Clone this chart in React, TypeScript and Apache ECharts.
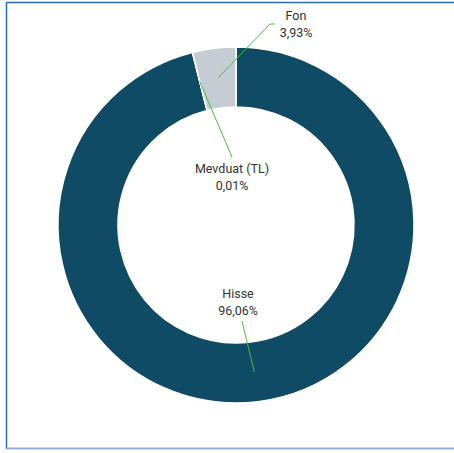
import React, { useEffect, useRef } from "react";
import * as echarts from "echarts";

const categories = ["Hisse", "Mevduat (TL)", "Fon"];
const values = [96.06, 0.01, 3.93];
const colors = ["#0f4b65", "#6f8fa3", "#c5ccd3"];

// layout (positions of manually placed labels and leader-line ends)
const CX = 236;
const CY = 225;
const R_IN = 118;
const R_OUT = 178;
const labelPos: number[][] = [
  [238, 302],
  [232, 177],
  [296, 24],
];
const lineEnds: number[][][] = [
  [[242, 321]],
  [[232, 157]],
  [
    [270, 24],
    [275, 24],
  ],
];

const fmt = (v: number) => v.toFixed(2).replace(".", ",") + "%";

export default function App() {
  const ref = useRef<HTMLDivElement>(null);
  useEffect(() => {
    if (!ref.current) return;
    const chart = echarts.init(ref.current, null, { renderer: "svg" });
    const total = values.reduce((a, b) => a + b, 0);
    let cum = 0;
    const rMid = (R_IN + R_OUT) / 2;
    const lines: any[] = values.map((v, i) => {
      const mid = (cum + v / 2) / total;
      cum += v;
      const th = mid * Math.PI * 2;
      const ax = CX + rMid * Math.sin(th);
      const ay = CY - rMid * Math.cos(th);
      return {
        type: "polyline",
        z: 100,
        silent: true,
        shape: { points: [[ax, ay], ...lineEnds[i]] },
        style: { stroke: "#4cb848", lineWidth: 1, fill: null },
      };
    });
    chart.setOption({
      animation: false,
      backgroundColor: "#ffffff",
      graphic: [
        {
          type: "line",
          z: 100,
          shape: { x1: 6.5, y1: 2.5, x2: 460, y2: 2.5 },
          style: { stroke: "#2b6bb2", lineWidth: 1.5 },
        },
        {
          type: "line",
          z: 100,
          shape: { x1: 6.5, y1: 2, x2: 6.5, y2: 449 },
          style: { stroke: "#2b6bb2", lineWidth: 1.5 },
        },
        {
          type: "line",
          z: 100,
          shape: { x1: 6, y1: 448.5, x2: 460, y2: 448.5 },
          style: { stroke: "#8fb2da", lineWidth: 2 },
        },
        ...lines,
      ],
      series: [
        {
          type: "pie",
          center: [CX, CY],
          radius: [R_IN, R_OUT],
          startAngle: 90,
          clockwise: true,
          avoidLabelOverlap: false,
          itemStyle: { borderColor: "#ffffff", borderWidth: 1.5 },
          label: {
            show: true,
            position: "outside",
            formatter: (p: any) => `${p.name}\n${fmt(p.value)}`,
            fontFamily: "Roboto, 'Noto Sans', sans-serif",
            fontSize: 12.5,
            lineHeight: 17,
            color: "#333333",
            align: "center",
          },
          labelLine: { show: false },
          labelLayout: (params: any) => ({
            x: labelPos[params.dataIndex][0],
            y: labelPos[params.dataIndex][1],
            align: "center",
            verticalAlign: "middle",
          }),
          emphasis: { disabled: true },
          data: categories.map((name, i) => ({
            name,
            value: values[i],
            itemStyle: { color: colors[i] },
          })),
        },
      ],
    });
    return () => chart.dispose();
  }, []);
  return (
    <div
      ref={ref}
      style={{ position: "fixed", left: 0, top: 0, width: 454, height: 453 }}
    />
  );
}
